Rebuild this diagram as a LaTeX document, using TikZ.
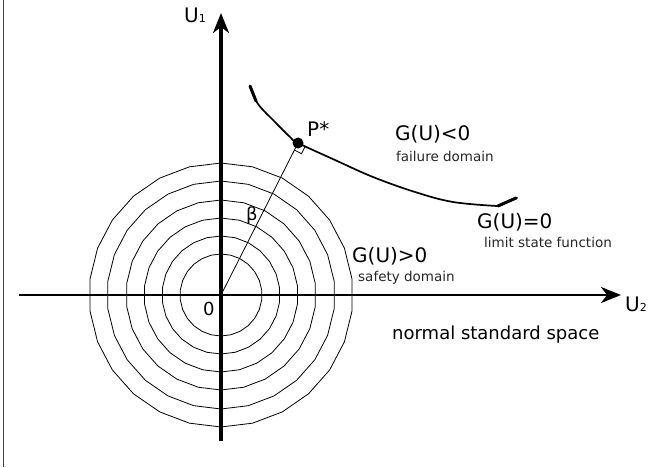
\documentclass[tikz,border=0pt]{standalone}
\usepackage{fontspec}
\setmainfont{DejaVu Sans}
\usetikzlibrary{arrows.meta,calc}
\begin{document}
\begin{tikzpicture}[x=1pt,y=-1pt,
  axis/.style={line width=3.2pt,-{Stealth[length=20pt,width=16pt,inset=6pt]}},
  ring/.style={line width=0.8pt},
  lsf/.style={line width=1.7pt,line cap=round,line join=round},
  big/.style={font=\fontsize{20}{20}\selectfont,inner sep=0pt,anchor=base west},
  mid/.style={font=\fontsize{18}{18}\selectfont,inner sep=0pt,anchor=base west},
  small/.style={font=\fontsize{13.5}{13.5}\selectfont,inner sep=0pt,anchor=base west,text=black!85}]
\useasboundingbox (0,0) rectangle (659,468);
\fill[white] (0,0) rectangle (659,468);
% left frame line
\coordinate (ft) at (3.5,0);
\coordinate (fb) at (3.5,467);
\draw[line width=1.3pt,black!75] (ft) -- (fb);
% origin and axes ends
\coordinate (O) at (221,295);
\coordinate (vbot) at (221,441);
\coordinate (vtop) at (221,13);
\coordinate (hleft) at (19,295);
\coordinate (hright) at (621,295);
% concentric rings
\foreach \r in {41,59,77,95,114,132}{
  \draw[ring] plot[samples=26,domain=90:436.15] ({221+\r*cos(\x)},{295+\r*sin(\x)}) -- cycle;
}
\draw[axis] (vbot) -- (vtop);
\draw[axis,line width=2.8pt] (hleft) -- (hright);
% design point and beta line
\coordinate (P) at (298,143);
\draw[line width=0.8pt] (O) -- (P);
\draw[line width=0.8pt] ($(P)+(-3.6,7.1)$) -- ++(7.1,3.6) -- ++(3.6,-7.1);
% limit state curve
\draw[lsf] plot[smooth,tension=0.6] coordinates {(251,88) (258,104) (275,122) (290,137) (298,143) (335,160) (373,177) (415,192) (453,202) (497,206)} -- (517,198);
\draw[line width=3pt,line cap=round] (250,86) -- (256,101);
\draw[line width=3pt,line cap=round] (498,206) -- (516,198);
\fill (P) circle (5.5pt);
% labels
\node[big] (lU1) at (184,23) {U{\fontsize{11}{11}\selectfont 1}};
\node[big] (lP) at (307,137) {P*};
\node[big] (lneg) at (395,141) {G(U)<0};
\node[small] (lfail) at (396,161) {failure domain};
\node[big] (lzero) at (477,228) {G(U)=0};
\node[small] (llsf) at (484,247) {limit state function};
\node[big] (lpos) at (352,262) {G(U)>0};
\node[small] (lsafe) at (358,281) {safety domain};
\node[big] (lU2) at (625,311) {U{\fontsize{11}{11}\selectfont 2}};
\node[mid] (lnss) at (392,339) {normal standard space};
\node[mid] (l0) at (203,315) {0};
\node[mid] (lbeta) at (246,220) {β};
\end{tikzpicture}
\end{document}
